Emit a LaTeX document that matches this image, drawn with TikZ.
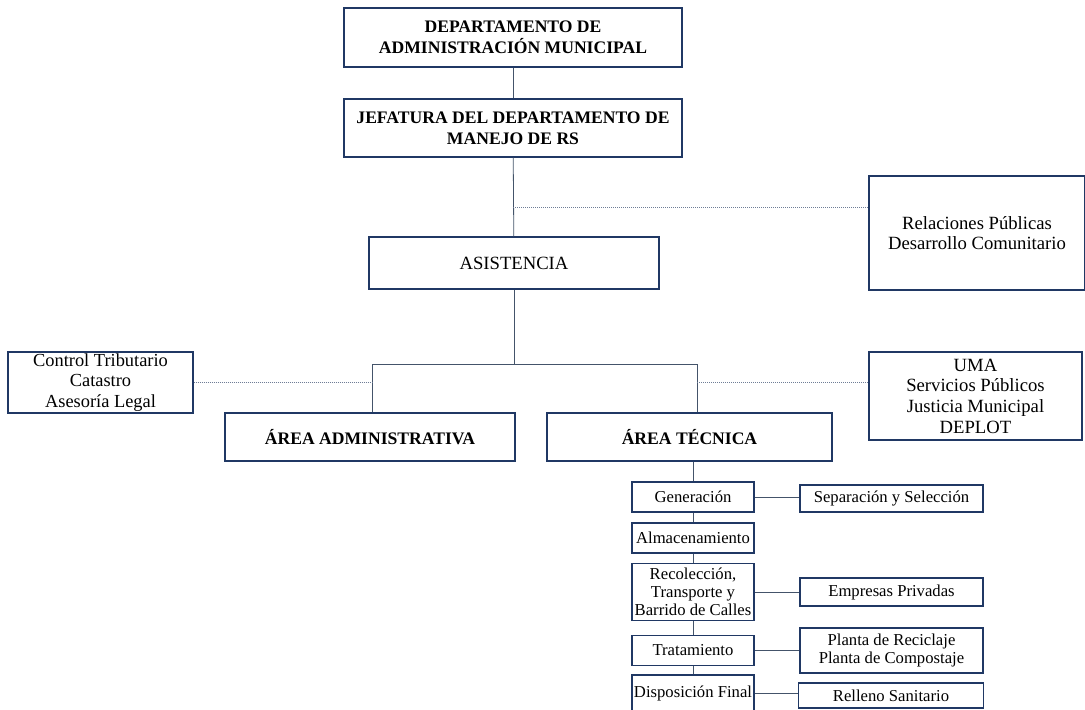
\documentclass[tikz,border=0pt]{standalone}
\usepackage{fontspec}
\setmainfont{Liberation Serif}
\usepackage{tikz}
\usetikzlibrary{positioning}
\definecolor{boxblue}{RGB}{32,56,100}
\definecolor{lineblue}{RGB}{68,84,106}
\definecolor{dotblue}{RGB}{110,125,150}
\tikzset{x=0.75pt,y=-0.75pt,
  box/.style={draw=boxblue,line width=0.9pt,fill=white,align=center,inner sep=0.5pt,
    font=\fontsize{14}{15.5}\selectfont},
  boldbox/.style={box,font=\fontsize{13.2}{15.75}\selectfont\bfseries},
  smallbox/.style={box,font=\fontsize{12.5}{13.5}\selectfont},
  link/.style={draw=lineblue,line width=0.6pt},
  dotlink/.style={draw=dotblue,line width=0.5pt,densely dotted}}

\begin{document}
\begin{tikzpicture}

  \useasboundingbox (0,0) rectangle (1085,710);
  \clip (0,0) rectangle (1085,710);

  % top of the chart
  \node [boldbox,minimum width=253.5pt,minimum height=44.25pt] (dam) at (513,37.5)
    {DEPARTAMENTO DE\\ADMINISTRACIÓN MUNICIPAL};
  \node [boldbox,minimum width=253.5pt,minimum height=43.5pt] (jef) at (513,128)
    {JEFATURA DEL DEPARTAMENTO DE\\MANEJO DE RS};
  \node [box,minimum width=217.5pt,minimum height=39pt] (asis) at (514,263) {ASISTENCIA};
  \node [box,minimum width=162pt,minimum height=85.5pt] (rp) at (977,233)
    {Relaciones Públicas\\Desarrollo Comunitario};



  % the two areas
  \node [box,font=\fontsize{13.8}{15.5}\selectfont,minimum width=138.75pt,minimum height=45.75pt,
    inner sep=0pt] (ctrl) at (100.5,382.5)
    {Control Tributario\\Catastro\\Asesoría Legal};
  \node [boldbox,minimum width=217.5pt,minimum height=36pt] (adm) at (370,437)
    {ÁREA ADMINISTRATIVA};
  \node [boldbox,minimum width=213.75pt,minimum height=36pt] (tec) at (689.5,437)
    {ÁREA TÉCNICA};
  \node [box,minimum width=159.75pt,minimum height=66pt] (uma) at (975.5,396)
    {UMA\\Servicios Públicos\\Justicia Municipal\\DEPLOT};



  % stages of the technical area
  \node [smallbox,minimum width=91.5pt,minimum height=22.5pt] (gen) at (693,497) {Generación};
  \node [smallbox,minimum width=91.5pt,minimum height=22.5pt] (alm) at (693,538) {Almacenamiento};
  \node [smallbox,minimum width=91.5pt,minimum height=42.75pt] (rec) at (693,592)
    {Recolección,\\Transporte y\\Barrido de Calles};
  \node [smallbox,minimum width=91.5pt,minimum height=22.5pt] (tra) at (693,650.5) {Tratamiento};
  \node [smallbox,minimum width=91.5pt,minimum height=27pt] (dis) at (693,693) {Disposición Final};

  \node [smallbox,minimum width=137.25pt,minimum height=20.25pt] (sep) at (891.5,498.5)
    {Separación y Selección};
  \node [smallbox,minimum width=137.25pt,minimum height=21pt] (emp) at (891.5,592)
    {Empresas Privadas};
  \node [smallbox,minimum width=137.25pt,minimum height=33.75pt] (pla) at (891.5,650.5)
    {Planta de Reciclaje\\Planta de Compostaje};
  \node [smallbox,minimum width=138.75pt,minimum height=18.75pt] (rel) at (891,695.5)
    {Relleno Sanitario};



  \coordinate (rj) at (513,207);
  \coordinate (br) at (514,364);
  \coordinate (la) at (372,364);
  \coordinate (ra) at (697,364);

  \draw [link] (dam) -- (jef);
  \draw [link] (jef) -- (asis);
  \draw [dotlink] (rj) -- (rj -| rp.west);

  \draw [link] (asis) -- (br);
  \draw [link] (la |- adm.north) -- (la) -- (ra) -- (ra |- tec.north);
  \draw [dotlink] (ctrl.east) -- (ctrl.east -| la);
  \draw [dotlink] (ra |- ctrl.east) -- (uma.west |- ctrl.east);

  \draw [link] (tec.south -| gen.north) -- (gen.north);
  \draw [link] (gen) -- (alm);
  \draw [link] (alm) -- (rec);
  \draw [link] (rec) -- (tra);
  \draw [link] (tra) -- (dis);

  \draw [link] (gen.east) -- (gen.east -| sep.west);
  \draw [link] (rec.east) -- (emp.west);
  \draw [link] (tra.east) -- (tra.east -| pla.west);
  \draw [link] (dis.east) -- (dis.east -| rel.west);

\end{tikzpicture}
\end{document}
